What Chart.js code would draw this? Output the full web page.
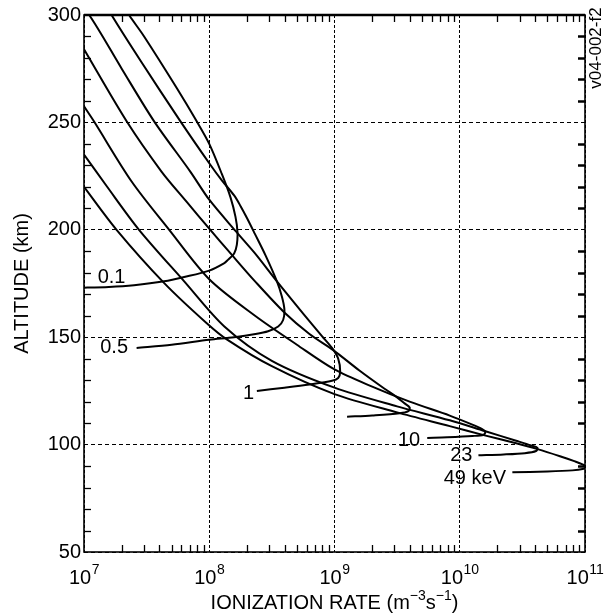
<!DOCTYPE html>
<html>
<head>
<meta charset="utf-8">
<script src="https://cdn.jsdelivr.net/npm/chart.js@4.4.1/dist/chart.umd.min.js"></script>
<style>
html,body{margin:0;padding:0;background:#fff;}
canvas{display:block;}
</style>
</head>
<body>
<canvas id="c" width="606" height="616"></canvas>
<script>
// ---- data (ionization rate in m^-3 s^-1, altitude in km) ----
const rate01 = [2.0e7,2.29e7,3.02e7,5.50e7,7.94e7,1.0e8,1.26e8,1.48e8,1.62e8,1.68e8,1.66e8,1.58e8,1.41e8,1.32e8,1.0e8,6.31e7,4.37e7,2.51e7,1.58e7,8.9e6];
const alt01  = [306,300,290,266,250.5,240,226,215,206,199,193,189,186,184.5,181,178,176,174.2,173.4,173];

const rate05 = [1.51e7,1.66e7,2.88e7,5.89e7,1.0e8,1.26e8,1.58e8,1.78e8,2.0e8,2.32e8,2.82e8,3.47e8,3.80e8,3.98e8,3.89e8,3.55e8,2.95e8,2.34e8,1.58e8,1.0e8,5.01e7,2.63e7];
const alt05  = [305,300,278,250.5,231,223,216,211,205.5,198,188,176,169,163,158,155,152.8,151.5,150,148.8,146.5,145];

const rate1 = [8.9e6,1.10e7,2.0e7,3.63e7,7.08e7,1.0e8,1.62e8,2.32e8,3.47e8,5.62e8,7.94e8,9.55e8,1.07e9,1.11e9,1.07e9,9.55e8,6.31e8,3.98e8,2.40e8];
const alt1  = [305,300,275,250.5,227,214,199.5,189,176,161,150.5,145,140,134,131,129.7,128,126.5,125];

const rate3 = [8.9e6,1.0e7,2.19e7,4.17e7,6.61e7,1.0e8,1.48e8,2.32e8,3.98e8,6.31e8,9.77e8,1.58e9,2.51e9,3.16e9,3.63e9,3.98e9,3.89e9,3.31e9,2.0e9,1.26e9];
const alt3  = [289,284,250.5,227,213,200.5,189,176,161.5,151.5,144,134.5,126,122,119.2,117.3,115.6,114.6,113.6,113];

const rate10 = [8.9e6,1.0e7,1.20e7,2.40e7,4.79e7,1.0e8,2.32e8,5.01e8,1.0e9,2.0e9,3.98e9,8.32e9,1.26e10,1.51e10,1.60e10,1.55e10,1.26e10,7.94e9,5.50e9];
const alt10  = [262,257.5,250.5,222.5,200,177,160,146.5,135,127,120,113.5,109.3,107.2,106,104.6,104,103.4,103.1];

const rate23 = [8.9e6,1.0e7,1.51e7,2.75e7,6.31e7,1.32e8,3.16e8,1.0e9,3.16e9,8.32e9,1.58e10,2.82e10,3.72e10,4.17e10,4.07e10,3.31e10,2.24e10,1.41e10];
const alt23  = [239,235,220.5,200,176,155,139,126.5,117.8,111.3,106.3,101.8,99.6,98.5,97,96,95.4,95];

const rate49 = [8.9e6,1.0e7,1.82e7,4.37e7,9.55e7,1.38e8,3.16e8,1.0e9,3.16e9,8.32e9,1.58e10,2.82e10,4.17e10,6.31e10,8.32e10,9.55e10,1.02e11,9.55e10,7.94e10,5.01e10,2.63e10];
const alt49  = [224,220,200,175.2,156.5,149,136.5,123.5,115,108.6,104.3,100.6,97.9,94.6,92.2,90.8,89.6,88.6,88,87.5,87.1];

// curve labels (text and anchor in data coordinates)
const labelTexts = ['0.1','0.5','1','10','23','49 keV'];
const labelRates = [1.66e7,1.74e7,2.06e8,3.94e9,1.03e10,1.32e10];
const labelAlts  = [178.4,145.9,124.6,102.8,95.4,84.7];

// axis ticks
const xTickValues = [1e7,1e8,1e9,1e10,1e11];
const xTickExps   = ['7','8','9','10','11'];
const yTickStep = 50;
const yMin = 50, yMax = 300;

const FONT = "'Liberation Sans', Arial, Helvetica, sans-serif";
Chart.defaults.font.family = FONT;
Chart.defaults.color = '#000';

const series = [[rate01,alt01],[rate05,alt05],[rate1,alt1],[rate3,alt3],[rate10,alt10],[rate23,alt23],[rate49,alt49]];
const datasets = series.map(([r,a]) => ({
  data: r.map((v,i) => ({x: v, y: a[i]})),
  showLine: true,
  borderColor: '#000',
  borderWidth: 2,
  pointRadius: 0,
  pointHoverRadius: 0,
  tension: 0.3,
  fill: false
}));

const deco = {
  id: 'deco',
  afterDraw(chart) {
    const ctx = chart.ctx;
    const xs = chart.scales.x, ys = chart.scales.y;
    const a = chart.chartArea;
    ctx.save();
    ctx.strokeStyle = '#000';
    ctx.fillStyle = '#000';
    // minor x ticks (top and bottom, inward)
    ctx.lineWidth = 1.3;
    for (let d = 0; d < xTickValues.length - 1; d++) {
      for (let m = 2; m <= 9; m++) {
        const px = Math.round(xs.getPixelForValue(xTickValues[d] * m)) + 0.5;
        ctx.beginPath();
        ctx.moveTo(px, a.bottom); ctx.lineTo(px, a.bottom - 7);
        ctx.moveTo(px, a.top); ctx.lineTo(px, a.top + 7);
        ctx.stroke();
      }
    }
    // minor y ticks every 10 km
    for (let v = yMin + 10; v < yMax; v += 10) {
      if (v % yTickStep === 0) continue;
      const py = Math.round(ys.getPixelForValue(v)) + 0.5;
      ctx.lineWidth = 1.3;
      ctx.beginPath(); ctx.moveTo(a.left, py); ctx.lineTo(a.left + 7, py); ctx.stroke();
      ctx.lineWidth = 2.5;
      ctx.beginPath(); ctx.moveTo(a.right, py); ctx.lineTo(a.right - 7, py); ctx.stroke();
    }
    // frame
    ctx.lineWidth = 1.6;
    ctx.strokeRect(a.left, a.top, a.right - a.left, a.bottom - a.top);
    ctx.lineWidth = 2.4;
    ctx.beginPath(); ctx.moveTo(a.left, a.top); ctx.lineTo(a.right, a.top); ctx.stroke();

    // x tick labels 10^n
    ctx.textBaseline = 'alphabetic';
    ctx.textAlign = 'left';
    xTickValues.forEach((v, i) => {
      const px = xs.getPixelForValue(v);
      ctx.font = '20px ' + FONT;
      const w1 = ctx.measureText('10').width;
      ctx.font = '14px ' + FONT;
      const w2 = ctx.measureText(xTickExps[i]).width;
      const x0 = px - (w1 + w2) / 2;
      ctx.font = '20px ' + FONT;
      ctx.fillText('10', x0, 584);
      ctx.font = '14px ' + FONT;
      ctx.fillText(xTickExps[i], x0 + w1 + 0.5, 574);
    });

    // x axis title with superscripts
    const parts = [['IONIZATION RATE (m',20,0],['\u22123',14,-9],['s',20,0],['\u22121',14,-9],[')',20,0]];
    let tw = 0;
    parts.forEach(p => { ctx.font = p[1] + 'px ' + FONT; p.push(ctx.measureText(p[0]).width); tw += p[3]; });
    let tx = (a.left + a.right) / 2 - tw / 2;
    parts.forEach(p => { ctx.font = p[1] + 'px ' + FONT; ctx.fillText(p[0], tx, 609 + p[2]); tx += p[3]; });

    // curve labels
    ctx.font = '20px ' + FONT;
    ctx.textAlign = 'center';
    labelTexts.forEach((t, i) => {
      ctx.fillText(t, xs.getPixelForValue(labelRates[i]), ys.getPixelForValue(labelAlts[i]) + 7);
    });

    // figure code on the right
    ctx.save();
    ctx.translate(601, 48);
    ctx.rotate(-Math.PI / 2);
    ctx.font = '17px ' + FONT;
    ctx.textAlign = 'center';
    ctx.fillText('v04-002-f2', 0, 0);
    ctx.restore();
    ctx.restore();
  }
};

new Chart(document.getElementById('c'), {
  type: 'scatter',
  data: { datasets },
  options: {
    responsive: false,
    animation: false,
    events: [],
    layout: { padding: { top: 13, right: 21, bottom: 0, left: 0 } },
    plugins: { legend: { display: false }, tooltip: { enabled: false } },
    scales: {
      x: {
        type: 'logarithmic',
        min: xTickValues[0], max: xTickValues[xTickValues.length - 1],
        afterBuildTicks: s => { s.ticks = xTickValues.map(v => ({ value: v })); },
        afterFit: s => { s.height = 64; },
        ticks: { display: false },
        grid: { color: '#000', lineWidth: 1, drawTicks: false },
        border: { display: false, dash: [3, 2] }
      },
      y: {
        type: 'linear',
        min: yMin, max: yMax,
        afterFit: s => { s.width = 84; },
        ticks: { stepSize: yTickStep, color: '#000', font: { size: 20, family: FONT }, padding: 3 },
        grid: { color: '#000', lineWidth: 1, drawTicks: false },
        border: { display: false, dash: [4, 3] },
        title: { display: true, text: 'ALTITUDE (km)', color: '#000', font: { size: 20, family: FONT }, padding: { top: 10, bottom: 0 } }
      }
    }
  },
  plugins: [deco]
});
</script>
</body>
</html>
